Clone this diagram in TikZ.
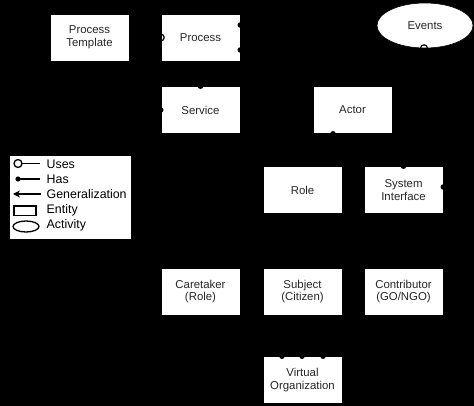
\documentclass[tikz,border=0pt]{standalone}
\usepackage{fontspec}
\setmainfont{Liberation Sans}
\usetikzlibrary{shapes.geometric,arrows.meta}
\begin{document}
\begin{tikzpicture}[x=1pt,y=-1pt,
  entity/.style={draw=black,line width=0.6pt,fill=white,minimum width=79pt,minimum height=47pt,inner sep=0pt,align=center,text=black!85,font=\fontsize{11.4}{12.5}\selectfont},
  activity/.style={ellipse,draw=black,line width=0.6pt,fill=white,minimum width=96pt,minimum height=45pt,inner sep=0pt,text=black!85,font=\fontsize{11.4}{12.5}\selectfont},
  conn/.style={draw=black,line width=1pt},
  gen/.style={conn,-{Stealth[length=8pt,width=6pt]}},
  hasdot/.style={fill=black},
  usesring/.style={draw=black,line width=1.2pt},
  legtext/.style={anchor=west,inner sep=0pt,text=black,font=\fontsize{12.4}{13}\selectfont}
]
\useasboundingbox (0,0) rectangle (474,406);
\fill[black] (0,0) rectangle (474,406);

% entities
\node[entity] (pt) at (89.5,37.5) {Process\\Template};
\node[entity] (proc) at (200.5,37.5) {Process};
\node[activity] (evt) at (425,25.5) {Events};
\node[entity] (svc) at (200.5,110) {Service};
\node[entity] (actor) at (352.5,110) {Actor};
\node[entity] (role) at (302.5,190) {Role};
\node[entity] (sysif) at (403.5,190) {System\\Interface};
\node[entity] (care) at (200.5,291.5) {Caretaker\\(Role)};
\node[entity] (subj) at (302.5,291.5) {Subject\\(Citizen)};
\node[entity] (contr) at (403.5,291.5) {Contributor\\(GO/NGO)};
\node[entity] (vo) at (302.5,380) {Virtual\\Organization};

% anchor coordinates for connector ends
\coordinate (procE1) at ([yshift=-12.5pt]proc.east);
\coordinate (procE2) at ([yshift=12.5pt]proc.east);
\coordinate (actorS) at ([xshift=-19.5pt]actor.south);
\coordinate (sysifE) at ([yshift=3pt]sysif.east);
\coordinate (evtS) at ([xshift=-1pt]evt.south);
\coordinate (evtSE) at (evt.-35);
\coordinate (vo1) at ([xshift=-20.5pt]vo.north);
\coordinate (vo2) at ([xshift=-0.5pt]vo.north);
\coordinate (vo3) at ([xshift=20.5pt]vo.north);
\coordinate (roleS1) at ([xshift=-12pt]role.south);
\coordinate (roleS3) at ([xshift=12pt]role.south);

% connectors (black on black, as in the reference)
\draw[conn] (pt.east) -- (proc.west);
\draw[conn] (procE1) -- (procE1 -| evt.west);
\draw[conn] (procE2) -| (actor.north);
\draw[conn] (proc.south) -- (svc.north);
\draw[conn] (pt.south) |- (svc.west);
\draw[conn] (actorS) -- (actorS |- role.north);
\draw[conn] (evtS) -- ++(0,102) -| (sysif.north);
\draw[conn,shorten >=1.5pt] (sysifE) -| (evtSE);
\draw[gen] (care.north) -- ++(0,-28) -| (roleS1);
\draw[gen] (subj.north) -- (role.south);
\draw[gen] (contr.north) -- ++(0,-28) -| (roleS3);
\draw[conn] (vo1) -- ++(0,-22) -| (care.south);
\draw[conn] (vo2) -- (vo2 |- subj.south);
\draw[conn] (vo3) -- ++(0,-17) -| (contr.south);

% markers
\draw[usesring] (proc.west) circle (3.5);
\draw[usesring] (evtS) circle (3.5);
\fill[hasdot] (procE1) circle (2.8);
\fill[hasdot] (procE2) circle (2.8);
\fill[hasdot] (svc.north) circle (2.8);
\fill[hasdot] (svc.west) circle (2.8);
\fill[hasdot] (actorS) circle (2.8);
\fill[hasdot] (sysif.north) circle (2.8);
\fill[hasdot] (sysifE) circle (2.8);
\fill[hasdot] (vo1) circle (2.8);
\fill[hasdot] (vo2) circle (2.8);
\fill[hasdot] (vo3) circle (2.8);

% legend
\node[draw=black,line width=0.6pt,fill=white,minimum width=122pt,minimum height=84pt,inner sep=0pt] (leg) at (70,197) {};
\draw[usesring,line width=1.3pt] (18,163.5) circle (4);
\draw[line width=1.3pt] (22,163.5) -- (40,163.5);
\fill (18,179) circle (2.6);
\draw[line width=1.3pt] (18,179) -- (40,179);
\draw[line width=1.3pt,-{Stealth[length=7pt,width=7pt]}] (41,194) -- (13,194);
\draw[line width=1.3pt] (14,206) rectangle (36,215.5);
\draw[line width=1.3pt] (26,226.5) ellipse (13 and 5.5);
\node[legtext] (l1) at (46.5,164) {Uses};
\node[legtext] (l2) at (46.5,179.5) {Has};
\node[legtext] (l3) at (46.5,194.5) {Generalization};
\node[legtext] (l4) at (46.5,210) {Entity};
\node[legtext] (l5) at (46.5,225) {Activity};
\end{tikzpicture}
\end{document}
